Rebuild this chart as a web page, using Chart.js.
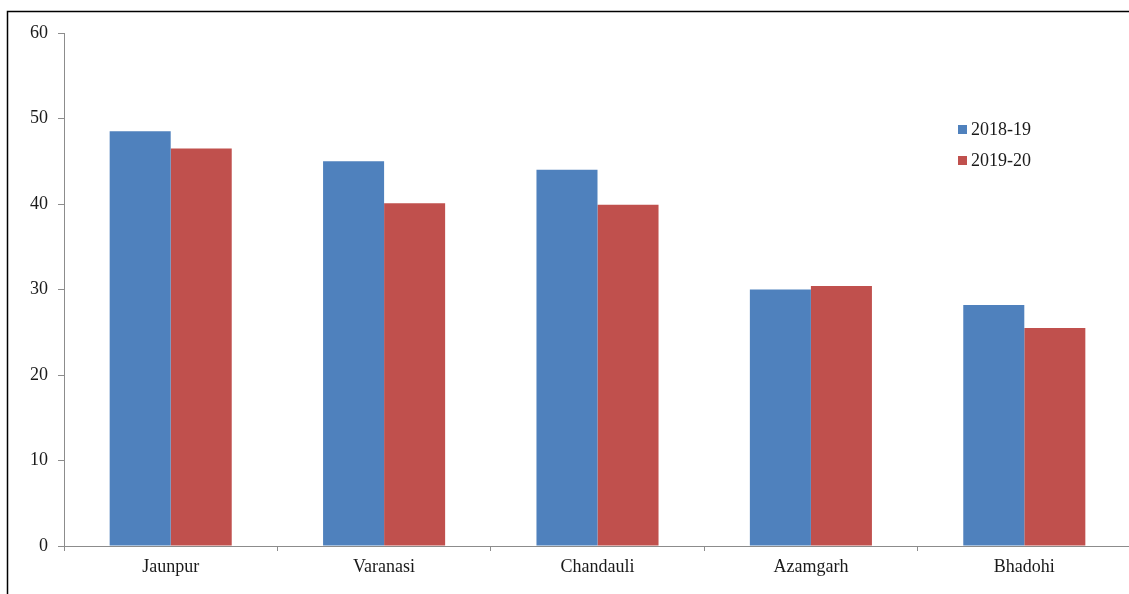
<!DOCTYPE html>
<html>
<head>
<meta charset="utf-8">
<script src="https://cdn.jsdelivr.net/npm/chart.js@4.4.1/dist/chart.umd.min.js"></script>
<style>
  html, body { margin: 0; padding: 0; background: #fff; overflow: hidden; }
  #wrap { position: relative; width: 1140px; height: 594px; }
</style>
</head>
<body>
<div id="wrap"><canvas id="c"></canvas></div>
<script>
// District-wise values for two years
const districts = ['Jaunpur', 'Varanasi', 'Chandauli', 'Azamgarh', 'Bhadohi'];
const series2018 = [48.5, 45.0, 44.0, 30.0, 28.2];
const series2019 = [46.5, 40.1, 39.9, 30.4, 25.5];
const seriesNames = ['2018-19', '2019-20'];
const yTicks = [0, 10, 20, 30, 40, 50, 60];

const FONT = "'Liberation Serif', 'Times New Roman', serif";
const FONT_SIZE = 18;
const TEXT_COLOR = '#1a1a1a';
const AXIS_GREY = '#8c8c8c';

// Outer frame (left and top edges visible)
const framePlugin = {
  id: 'frame',
  beforeDraw(chart) {
    const ctx = chart.ctx;
    ctx.save();
    ctx.strokeStyle = '#000';
    ctx.lineWidth = 1.5;
    ctx.beginPath();
    ctx.moveTo(7.5, 700);
    ctx.lineTo(7.5, 11.5);
    ctx.lineTo(1200, 11.5);
    ctx.stroke();
    ctx.restore();
  }
};

// Legend drawn inside the plot area on the right
const legendPlugin = {
  id: 'sideLegend',
  afterDraw(chart) {
    const ctx = chart.ctx;
    ctx.save();
    ctx.font = FONT_SIZE + 'px ' + FONT;
    ctx.textBaseline = 'middle';
    ctx.textAlign = 'left';
    chart.data.datasets.forEach((ds, i) => {
      const y = 129 + i * 31;
      ctx.fillStyle = ds.backgroundColor;
      ctx.fillRect(958, y - 4, 9, 9);
      ctx.fillStyle = TEXT_COLOR;
      ctx.fillText(ds.label, 971, y + 1);
    });
    ctx.restore();
  }
};

new Chart(document.getElementById('c'), {
  type: 'bar',
  data: {
    labels: districts,
    datasets: [
      { label: seriesNames[0], data: series2018, backgroundColor: '#4F81BD' },
      { label: seriesNames[1], data: series2019, backgroundColor: '#C0504D' }
    ]
  },
  options: {
    responsive: true,
    maintainAspectRatio: false,
    animation: false,
    devicePixelRatio: 1,
    layout: { padding: { left: 0, top: 33, right: 9, bottom: 0 } },
    datasets: { bar: { categoryPercentage: 0.572, barPercentage: 1.0 } },
    plugins: { legend: { display: false }, tooltip: { enabled: false } },
    scales: {
      x: {
        grid: { display: true, drawOnChartArea: false, offset: true, color: AXIS_GREY, tickLength: 5 },
        border: { color: AXIS_GREY, width: 1 },
        ticks: { color: TEXT_COLOR, font: { family: FONT, size: FONT_SIZE }, padding: 5, maxRotation: 0 },
        afterFit(scale) { scale.height = 48; }
      },
      y: {
        min: 0, max: 60,
        afterBuildTicks(scale) { scale.ticks = yTicks.map(v => ({ value: v })); },
        grid: { display: true, drawOnChartArea: false, color: AXIS_GREY, tickLength: 6 },
        border: { color: AXIS_GREY, width: 1 },
        ticks: { color: TEXT_COLOR, font: { family: FONT, size: FONT_SIZE }, padding: 10 },
        afterFit(scale) { scale.width = 64; }
      }
    }
  },
  plugins: [framePlugin, legendPlugin]
});
</script>
</body>
</html>
